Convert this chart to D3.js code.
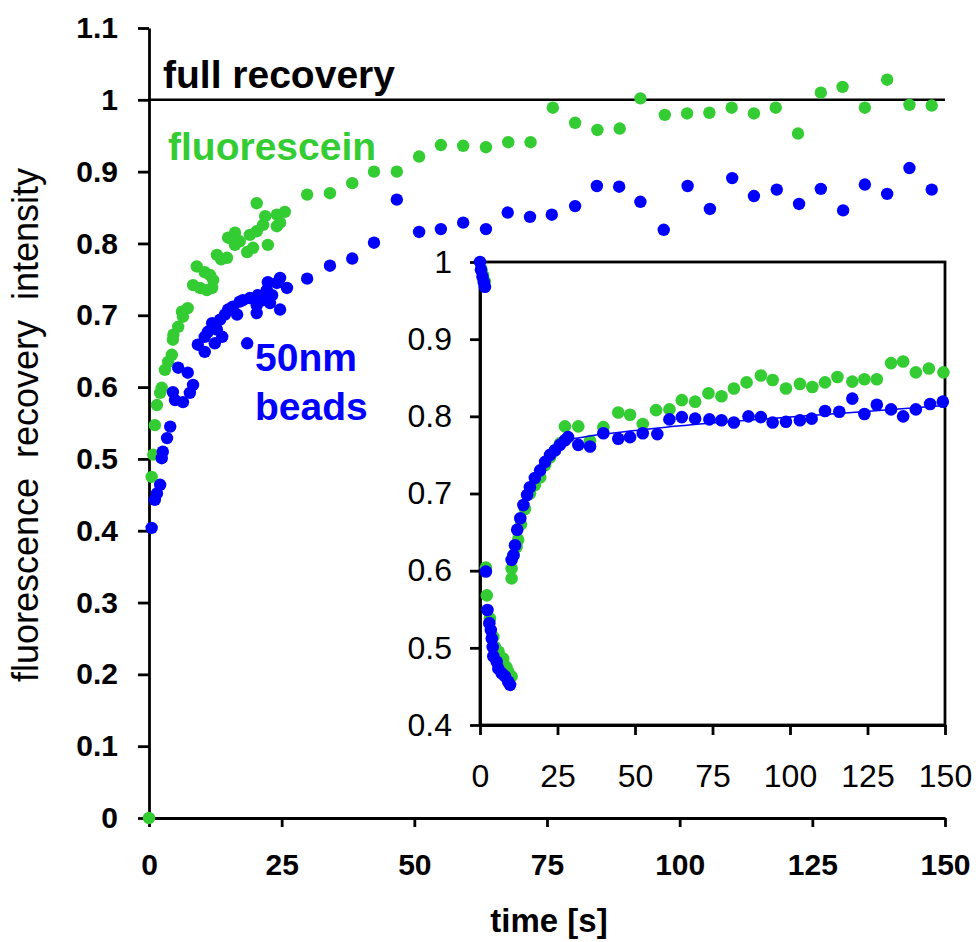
<!DOCTYPE html>
<html>
<head>
<meta charset="utf-8">
<script src="https://cdn.jsdelivr.net/npm/d3@7"></script>
<style>
  body { margin: 0; background: #fff; }
  svg { display: block; font-family: "Liberation Sans", Arial, sans-serif; }
</style>
</head>
<body>
<svg id="chart" width="976" height="942"></svg>
<script>
// main plot: [time s, recovery]
var mainGreen = [
  [0,0],[0.5,0.475],[0.8,0.506],[1.1,0.547],[1.5,0.575],[2.1,0.592],[2.4,0.599],[3.0,0.624],
  [3.6,0.635],[4.3,0.645],[4.5,0.666],[4.6,0.673],[5.5,0.684],[6.2,0.705],[6.4,0.698],[7.3,0.710],
  [8.3,0.742],[9.0,0.768],[9.6,0.738],[10.5,0.760],[10.9,0.735],[11.5,0.756],[11.9,0.738],[12.1,0.749],
  [12.8,0.784],[13.6,0.778],[14.7,0.780],[14.9,0.808],[16.2,0.815],[16.2,0.798],[17.1,0.803],[18.5,0.788],
  [19.0,0.812],[19.6,0.794],[20.3,0.856],[20.3,0.817],[21.5,0.826],[21.9,0.838],[22.4,0.798],[24.1,0.840],
  [24.1,0.824],[24.7,0.829],[25.6,0.844],
  [29.8,0.868],[34.1,0.870],[38.3,0.884],[42.4,0.900],[46.7,0.900],[50.9,0.921],[55.0,0.937],[59.2,0.936],
  [63.5,0.934],[67.7,0.941],[71.9,0.941],[76.1,0.989],[80.3,0.968],[84.5,0.958],[88.7,0.960],[92.6,1.002],
  [97.2,0.979],[101.4,0.981],[105.6,0.982],[109.8,0.989],[114.0,0.981],[118.1,0.989],[122.3,0.953],[126.6,1.010],
  [130.7,1.018],[134.9,0.989],[139.1,1.028],[143.3,0.993],[147.5,0.992]
];
var mainBlue = [
  [0.5,0.404],[1.1,0.443],[1.5,0.452],[2.1,0.464],[2.4,0.501],[2.6,0.510],[3.4,0.529],[4.0,0.545],
  [4.5,0.593],[4.9,0.582],[5.5,0.627],[6.4,0.579],[7.3,0.620],[7.7,0.592],[8.3,0.603],[9.2,0.659],
  [10.5,0.649],[10.5,0.670],[11.1,0.677],[11.9,0.689],[12.4,0.661],[12.8,0.680],[13.4,0.694],[13.8,0.670],
  [14.3,0.701],[14.9,0.708],[15.8,0.712],[16.6,0.701],[17.1,0.719],[17.7,0.721],[18.5,0.661],[19.0,0.724],
  [20.3,0.714],[20.3,0.703],[20.5,0.728],[21.5,0.721],[22.2,0.735],[22.4,0.746],[22.8,0.717],[23.2,0.728],
  [24.1,0.745],[24.7,0.752],[24.7,0.708],[26.0,0.738],
  [29.8,0.751],[34.1,0.769],[38.3,0.779],[42.4,0.801],[46.7,0.861],[50.9,0.816],[55.0,0.820],[59.2,0.829],
  [63.5,0.820],[67.6,0.843],[71.8,0.837],[75.9,0.840],[80.3,0.852],[84.4,0.880],[88.6,0.879],[92.6,0.858],
  [97.0,0.819],[101.5,0.880],[105.7,0.848],[109.9,0.891],[114.0,0.866],[118.3,0.875],[122.5,0.855],[126.6,0.876],
  [130.8,0.846],[134.9,0.882],[139.1,0.869],[143.3,0.905],[147.5,0.875]
];

// inset: [time s, recovery]
var insetGreen = [
  [0.5,0.990],[1.0,0.983],[1.5,0.975],
  [1.9,0.604],[2.2,0.568],[3.2,0.538],[4.3,0.514],[4.8,0.501],[6.0,0.495],[7.5,0.486],[8.5,0.475],
  [9.1,0.469],[10.2,0.463],
  [10.2,0.590],[10.2,0.603],[10.8,0.620],[11.8,0.631],[12.3,0.640],[13.2,0.660],[14.5,0.680],[16.1,0.700],
  [17.7,0.711],[19.4,0.721],[21.0,0.737],[22.6,0.747],[24.2,0.756],[25.8,0.765],[27.4,0.787],
  [31.7,0.787],[35.5,0.768],[39.8,0.786],[44.6,0.805],[48.4,0.802],[52.5,0.790],[56.8,0.808],[61.1,0.809],
  [65.1,0.821],[69.4,0.819],[73.7,0.830],[77.9,0.826],[81.9,0.836],[86.0,0.844],[90.6,0.853],[94.4,0.847],
  [98.7,0.836],[103.2,0.842],[107.2,0.838],[111.3,0.844],[115.3,0.851],[120.1,0.845],[124.0,0.848],[128.0,0.848],
  [132.6,0.869],[136.5,0.871],[140.6,0.857],[144.8,0.862],[149.5,0.857]
];
var insetBlue = [
  [0,1.000],[0.3,0.990],[0.8,0.981],[1.2,0.974],[1.6,0.968],
  [1.9,0.599],[2.4,0.549],[3.0,0.532],[3.5,0.523],[3.8,0.512],[4.1,0.501],[4.3,0.489],[5.4,0.482],
  [5.9,0.473],[7.0,0.467],[8.1,0.463],[9.1,0.456],[9.7,0.452],
  [10.2,0.614],[10.8,0.620],[11.3,0.633],[12.0,0.653],[13.0,0.668],[14.0,0.685],[15.2,0.698],[16.1,0.708],
  [17.7,0.720],[19.4,0.730],[21.0,0.741],[22.6,0.750],[24.2,0.756],[25.8,0.763],[27.4,0.769],[28.4,0.773],
  [31.7,0.763],[35.5,0.761],[39.8,0.778],[44.6,0.771],[48.4,0.773],[52.5,0.778],[57.2,0.777],[61.1,0.796],
  [65.1,0.799],[69.4,0.797],[74.0,0.796],[77.9,0.795],[81.9,0.792],[86.6,0.800],[90.6,0.799],[94.4,0.792],
  [98.7,0.793],[103.2,0.795],[107.0,0.797],[111.3,0.807],[115.9,0.806],[120.1,0.823],[124.0,0.803],[128.0,0.815],
  [132.6,0.809],[136.5,0.800],[140.6,0.809],[145.2,0.816],[149.3,0.819]
];
// fitted curve through the blue recovery
var insetFit = [[30,0.771],[40,0.777],[60,0.786],[80,0.793],[100,0.799],[120,0.805],[150,0.814]];

var mainYTicks = [0,0.1,0.2,0.3,0.4,0.5,0.6,0.7,0.8,0.9,1,1.1];
var mainXTicks = [0,25,50,75,100,125,150];
var insetYTicks = [0.4,0.5,0.6,0.7,0.8,0.9,1];
var insetXTicks = [0,25,50,75,100,125,150];

var GREEN = "#33cc33", BLUE = "#0000ff";

var svg = d3.select("#chart");

var x = d3.scaleLinear().domain([0, 150]).range([149, 945]);
var y = d3.scaleLinear().domain([0, 1.1]).range([818, 28]);

// full recovery line
svg.append("line")
    .attr("x1", x(0)).attr("x2", x(150))
    .attr("y1", y(1)).attr("y2", y(1))
    .attr("stroke", "#000").attr("stroke-width", 2.5);

// main axes
var fmt = d3.format("~g");
var gy = svg.append("g")
    .attr("transform", "translate(" + x(0) + ",0)")
    .call(d3.axisLeft(y).tickValues(mainYTicks).tickFormat(fmt).tickSize(11).tickSizeOuter(0).tickPadding(20));
var gx = svg.append("g")
    .attr("transform", "translate(0," + y(0) + ")")
    .call(d3.axisBottom(x).tickValues(mainXTicks).tickSize(9).tickSizeOuter(0).tickPadding(27));
[gy, gx].forEach(function(g) {
  g.selectAll("path, line").attr("stroke", "#000").attr("stroke-width", 2.8);
  g.selectAll("text").attr("fill", "#000")
    .style("font-size", "30px").style("font-weight", "bold");
});

svg.append("g").selectAll("circle")
  .data(mainGreen).enter().append("circle")
    .attr("cx", d => x(d[0])).attr("cy", d => y(d[1])).attr("r", 6.2)
    .attr("fill", GREEN);
svg.append("g").selectAll("circle")
  .data(mainBlue).enter().append("circle")
    .attr("cx", d => x(d[0])).attr("cy", d => y(d[1])).attr("r", 6.2)
    .attr("fill", BLUE);

// annotations
svg.append("text").attr("x", 163).attr("y", 88).text("full recovery")
    .style("font-size", "39px").style("font-weight", "bold").attr("fill", "#000");
svg.append("text").attr("x", 168).attr("y", 160).text("fluorescein")
    .style("font-size", "39px").style("font-weight", "bold").attr("fill", GREEN);
svg.append("text").attr("x", 255).attr("y", 371).text("50nm")
    .style("font-size", "39px").style("font-weight", "bold").attr("fill", BLUE);
svg.append("text").attr("x", 255).attr("y", 420).text("beads")
    .style("font-size", "39px").style("font-weight", "bold").attr("fill", BLUE);

svg.append("text")
    .attr("transform", "translate(38,425) rotate(-90)")
    .attr("text-anchor", "middle")
    .style("font-size", "36px").style("white-space", "pre")
    .text("fluorescence  recovery  intensity");
svg.append("text")
    .attr("x", 549).attr("y", 932).attr("text-anchor", "middle")
    .style("font-size", "33px").style("font-weight", "bold")
    .text("time [s]");

// inset
var xi = d3.scaleLinear().domain([0, 150]).range([480, 945]);
var yi = d3.scaleLinear().domain([0.4, 1]).range([725, 262]);

svg.append("rect")
    .attr("x", xi(0)).attr("y", yi(1))
    .attr("width", xi(150) - xi(0)).attr("height", yi(0.4) - yi(1))
    .attr("fill", "#fff").attr("stroke", "#000").attr("stroke-width", 2.8);

var giy = svg.append("g")
    .attr("transform", "translate(" + xi(0) + ",0)")
    .call(d3.axisLeft(yi).tickValues(insetYTicks).tickFormat(fmt).tickSize(10).tickSizeOuter(0).tickPadding(18));
var gix = svg.append("g")
    .attr("transform", "translate(0," + yi(0.4) + ")")
    .call(d3.axisBottom(xi).tickValues(insetXTicks).tickSize(10).tickSizeOuter(0).tickPadding(29));
[giy, gix].forEach(function(g) {
  g.selectAll("path, line").attr("stroke", "#000").attr("stroke-width", 2.8);
  g.selectAll("text").attr("fill", "#000")
    .style("font-size", "32px").style("font-weight", "normal");
});

svg.append("g").selectAll("circle")
  .data(insetGreen).enter().append("circle")
    .attr("cx", d => xi(d[0])).attr("cy", d => yi(d[1])).attr("r", 6.3)
    .attr("fill", GREEN);

svg.append("path")
    .datum(insetFit)
    .attr("d", d3.line().x(d => xi(d[0])).y(d => yi(d[1])).curve(d3.curveMonotoneX))
    .attr("fill", "none").attr("stroke", BLUE).attr("stroke-width", 1.5);

svg.append("g").selectAll("circle")
  .data(insetBlue).enter().append("circle")
    .attr("cx", d => xi(d[0])).attr("cy", d => yi(d[1])).attr("r", 6.3)
    .attr("fill", BLUE);
</script>
</body>
</html>
